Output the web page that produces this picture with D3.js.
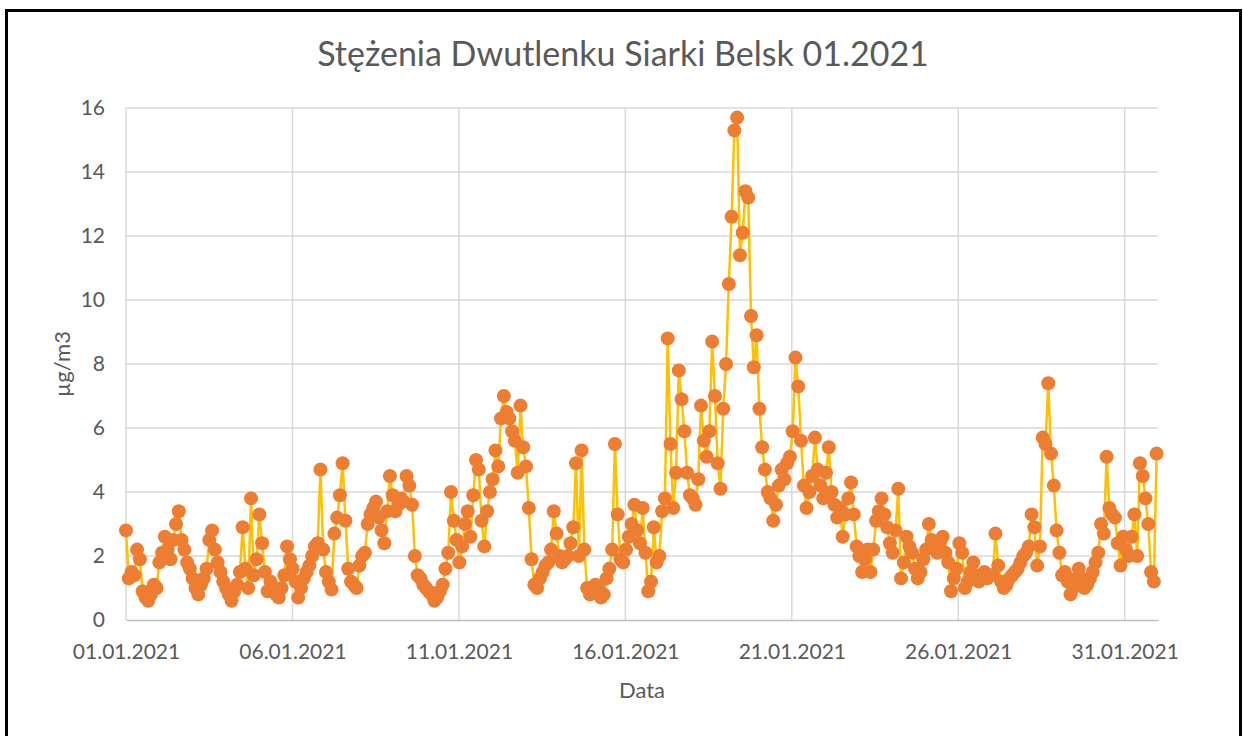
<!DOCTYPE html>
<html>
<head>
<meta charset="utf-8">
<script src="https://cdn.jsdelivr.net/npm/d3@7"></script>
<style>
  body { margin: 0; background: #fff; }
  text { font-family: Lato, "Open Sans", sans-serif; fill: #595959; }
</style>
</head>
<body>
<div id="chart"></div>
<script>
// data: SO2 readings, Belsk, January 2021 (about every 2 hours)
var so2Values = [
  2.8, 1.3, 1.5, 1.4, 2.2, 1.9, 0.9, 0.7, 0.6, 0.8, 1.1, 1.0,   // 01.01
  1.8, 2.1, 2.6, 2.2, 1.9, 2.5, 3.0, 3.4, 2.5, 2.2, 1.8, 1.6,   // 02.01
  1.3, 1.0, 0.8, 1.1, 1.3, 1.6, 2.5, 2.8, 2.2, 1.8, 1.5, 1.2,   // 03.01
  1.0, 0.8, 0.6, 0.9, 1.1, 1.5, 2.9, 1.6, 1.0, 3.8, 1.4, 1.9,   // 04.01
  3.3, 2.4, 1.5, 0.9, 1.2, 0.9, 0.8, 0.7, 1.0, 1.4, 2.3, 1.9,   // 05.01
  1.6, 1.2, 0.7, 1.0, 1.3, 1.5, 1.7, 2.0, 2.3, 2.4, 4.7, 2.2,   // 06.01
  1.5, 1.2, 0.95, 2.7, 3.2, 3.9, 4.9, 3.1, 1.6, 1.2, 1.1, 1.0,  // 07.01
  1.7, 2.0, 2.1, 3.0, 3.3, 3.5, 3.7, 3.2, 2.8, 2.4, 3.4, 4.5,   // 08.01
  3.9, 3.4, 3.6, 3.8, 3.7, 4.5, 4.2, 3.6, 2.0, 1.4, 1.3, 1.1,   // 09.01
  1.0, 0.9, 0.8, 0.6, 0.7, 0.9, 1.1, 1.6, 2.1, 4.0, 3.1, 2.5,   // 10.01
  1.8, 2.3, 3.0, 3.4, 2.6, 3.9, 5.0, 4.7, 3.1, 2.3, 3.4, 4.0,   // 11.01
  4.4, 5.3, 4.8, 6.3, 7.0, 6.5, 6.3, 5.9, 5.6, 4.6, 6.7, 5.4,   // 12.01
  4.8, 3.5, 1.9, 1.1, 1.0, 1.3, 1.5, 1.7, 1.8, 2.2, 3.4, 2.7,   // 13.01
  2.0, 1.8, 1.9, 2.0, 2.4, 2.9, 4.9, 2.0, 5.3, 2.2, 1.0, 0.8,   // 14.01
  0.9, 1.1, 1.0, 0.7, 0.8, 1.3, 1.6, 2.2, 5.5, 3.3, 1.9, 1.8,   // 15.01
  2.2, 2.6, 3.0, 3.6, 2.8, 2.4, 3.5, 2.1, 0.9, 1.2, 2.9, 1.8,   // 16.01
  2.0, 3.4, 3.8, 8.8, 5.5, 3.5, 4.6, 7.8, 6.9, 5.9, 4.6, 3.9,   // 17.01
  3.8, 3.6, 4.4, 6.7, 5.6, 5.1, 5.9, 8.7, 7.0, 4.9, 4.1, 6.6,   // 18.01
  8.0, 10.5, 12.6, 15.3, 15.7, 11.4, 12.1, 13.4, 13.2, 9.5, 7.9, 8.9, // 19.01
  6.6, 5.4, 4.7, 4.0, 3.8, 3.1, 3.6, 4.2, 4.7, 4.4, 4.9, 5.1,   // 20.01
  5.9, 8.2, 7.3, 5.6, 4.2, 3.5, 4.0, 4.5, 5.7, 4.7, 4.2, 3.8,   // 21.01
  4.6, 5.4, 4.0, 3.6, 3.2, 3.5, 2.6, 3.3, 3.8, 4.3, 3.3, 2.3,   // 22.01
  2.0, 1.5, 1.9, 2.2, 1.5, 2.2, 3.1, 3.4, 3.8, 3.3, 2.9, 2.4,   // 23.01
  2.1, 2.8, 4.1, 1.3, 1.8, 2.6, 2.3, 2.1, 1.6, 1.3, 1.5, 1.9,   // 24.01
  2.2, 3.0, 2.5, 2.3, 2.1, 2.4, 2.6, 2.1, 1.8, 0.9, 1.3, 1.6,   // 25.01
  2.4, 2.1, 1.0, 1.2, 1.5, 1.8, 1.4, 1.2, 1.4, 1.5, 1.3, 1.4,   // 26.01
  1.4, 2.7, 1.7, 1.2, 1.0, 1.1, 1.3, 1.4, 1.5, 1.6, 1.8, 2.0,   // 27.01
  2.1, 2.3, 3.3, 2.9, 1.7, 2.3, 5.7, 5.5, 7.4, 5.2, 4.2, 2.8,   // 28.01
  2.1, 1.4, 1.5, 1.2, 0.8, 1.0, 1.3, 1.6, 1.3, 1.0, 1.1, 1.3,   // 29.01
  1.5, 1.8, 2.1, 3.0, 2.7, 5.1, 3.5, 3.3, 3.2, 2.4, 1.7, 2.6,   // 30.01
  2.2, 2.0, 2.6, 3.3, 2.0, 4.9, 4.5, 3.8, 3.0, 1.5, 1.2, 5.2    // 31.01
];
var firstHour = new Date(2021, 0, 1, 0);
var lastHour = new Date(2021, 0, 31, 23);
var xTickLabels = ["01.01.2021", "06.01.2021", "11.01.2021", "16.01.2021", "21.01.2021", "26.01.2021", "31.01.2021"];
var yTicks = [0, 2, 4, 6, 8, 10, 12, 14, 16];

// chart setup
var svgWidth = 1243;
var svgHeight = 736;
var margin = { top: 108, right: 85, bottom: 116, left: 126 };
var width = svgWidth - margin.left - margin.right;
var height = svgHeight - margin.top - margin.bottom;

var parseLabel = d3.timeParse("%d.%m.%Y");
var step = (lastHour - firstHour) / (so2Values.length - 1);
var data = so2Values.map((v, i) => ({ date: new Date(+firstHour + i * step), value: v }));

var svg = d3.select("#chart")
  .append("svg")
  .attr("width", svgWidth)
  .attr("height", svgHeight);

// outer frame
svg.append("rect")
  .attr("x", 6.5).attr("y", 10.5)
  .attr("width", 1234).attr("height", 740)
  .attr("fill", "#fff")
  .attr("stroke", "#000")
  .attr("stroke-width", 3);

var chartGroup = svg.append("g")
  .attr("transform", `translate(${margin.left}, ${margin.top})`);

var xScale = d3.scaleTime()
  .domain([new Date(2021, 0, 1), new Date(2021, 1, 1)])
  .range([0, width]);
var yScale = d3.scaleLinear()
  .domain([0, 16])
  .range([height, 0]);

// gridlines
chartGroup.append("g")
  .selectAll("line.h")
  .data(yTicks.slice(1))
  .enter().append("line")
  .attr("x1", 0).attr("x2", width)
  .attr("y1", d => yScale(d)).attr("y2", d => yScale(d))
  .attr("stroke", "#d9d9d9").attr("stroke-width", 1.5);

chartGroup.append("g")
  .selectAll("line.v")
  .data(xTickLabels)
  .enter().append("line")
  .attr("x1", d => xScale(parseLabel(d))).attr("x2", d => xScale(parseLabel(d)))
  .attr("y1", 0).attr("y2", height)
  .attr("stroke", "#d9d9d9").attr("stroke-width", 1.5);

// axes
var bottomAxis = d3.axisBottom(xScale)
  .tickValues(xTickLabels.map(parseLabel))
  .tickFormat(d3.timeFormat("%d.%m.%Y"))
  .tickSize(0).tickPadding(24);
var leftAxis = d3.axisLeft(yScale)
  .tickValues(yTicks)
  .tickSize(0).tickPadding(21);

var xAxis = chartGroup.append("g")
  .attr("transform", `translate(0, ${height})`)
  .call(bottomAxis);
xAxis.select(".domain").attr("stroke", "#bfbfbf").attr("stroke-width", 1.5);
xAxis.selectAll("text").style("font-size", "21px").attr("fill", "#595959");

var yAxis = chartGroup.append("g").call(leftAxis);
yAxis.select(".domain").remove();
yAxis.selectAll("text").style("font-size", "21px").attr("fill", "#595959");

// series
var line = d3.line()
  .x(d => xScale(d.date))
  .y(d => yScale(d.value));

chartGroup.append("path")
  .datum(data)
  .attr("d", line)
  .attr("fill", "none")
  .attr("stroke", "#FFC000")
  .attr("stroke-width", 2.5);

chartGroup.selectAll("circle")
  .data(data)
  .enter()
  .append("circle")
  .attr("cx", d => xScale(d.date))
  .attr("cy", d => yScale(d.value))
  .attr("r", 7)
  .attr("fill", "#ED7D31");

// titles
svg.append("text")
  .attr("x", 623).attr("y", 66)
  .attr("text-anchor", "middle")
  .style("font-size", "34px")
  .text("Stężenia Dwutlenku Siarki Belsk 01.2021");

svg.append("text")
  .attr("x", margin.left + width / 2).attr("y", 698)
  .attr("text-anchor", "middle")
  .style("font-size", "22px")
  .text("Data");

svg.append("text")
  .attr("transform", `translate(70, ${margin.top + height / 2}) rotate(-90)`)
  .attr("text-anchor", "middle")
  .style("font-size", "22px")
  .text("µg/m3");
</script>
</body>
</html>
